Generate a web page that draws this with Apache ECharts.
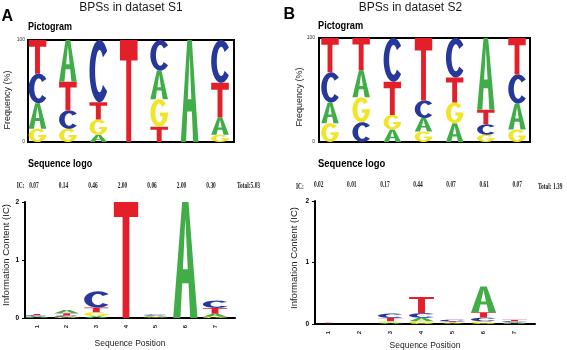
<!DOCTYPE html>
<html><head><meta charset="utf-8">
<script src="https://cdn.jsdelivr.net/npm/echarts@6/dist/echarts.min.js"></script>
<style>html,body{margin:0;padding:0;background:#fff}#c{width:567px;height:350px}</style>
</head><body><div id="c"></div>
<script>
// ---------- data ----------
const positions = [1, 2, 3, 4, 5, 6, 7];
const posLabels = ['1', '2', '3', '4', '5', '6', '7'];
const letters = ['A', 'C', 'G', 'T'];

// dataset S1 : base frequencies (%) per position
const s1A = [25, 41, 7, 0, 28, 100, 17];
const s1C = [29, 18, 61, 0, 30, 0, 42];
const s1G = [13, 13, 15, 0, 27, 0, 7];
const s1T = [33, 28, 17, 100, 15, 0, 34];
const s1IC = [0.07, 0.14, 0.46, 2.00, 0.06, 2.00, 0.30];
const s1ICLabels = ['0.07', '0.14', '0.46', '2.00', '0.06', '2.00', '0.30'];
const s1Total = 'Total:5.03';

// dataset S2
const s2A = [20, 26, 12, 13, 18, 69, 25];
const s2C = [29, 19, 42, 17, 38, 10, 28];
const s2G = [18, 24, 14, 10, 20, 7, 12];
const s2T = [33, 31, 32, 60, 24, 14, 35];
const s2IC = [0.02, 0.01, 0.17, 0.44, 0.07, 0.61, 0.07];
const s2ICLabels = ['0.02', '0.01', '0.17', '0.44', '0.07', '0.61', '0.07'];
const s2Total = 'Total: 1.39';

// ---------- glyph shapes ----------
const COLORS = { A: '#41ad48', C: '#26389a', G: '#f0e52a', T: '#e3202a' };
function arc(cx, cy, rx, ry, a0, a1, n) {
  const out = [];
  for (let i = 0; i <= n; i++) {
    const a = (a0 + (a1 - a0) * i / n) * Math.PI / 180;
    out.push([cx + rx * Math.cos(a), cy + ry * Math.sin(a)]);
  }
  return out;
}
function poly(pts) { return 'M' + pts.map(p => p[0].toFixed(2) + ' ' + p[1].toFixed(2)).join(' L') + ' Z'; }
const pathA = 'M0 100 L37 0 L63 0 L100 100 L70 100 L63 70 L37 70 L30 100 Z M50 14 L40 58 L60 58 Z';
const pathC = poly(arc(50, 50, 50, 50, 40, 320, 48).concat(arc(50, 50, 22, 34, 320, 40, 48)));
const gi = Math.asin(12 / 34) * 180 / Math.PI;
const pathG = poly(arc(50, 50, 50, 50, 0, 320, 48).concat(arc(50, 50, 22, 34, 320, gi, 48), [[54, 62], [54, 48], [100, 48]]));
const pathTpic = 'M0 0 L100 0 L100 20 L64 20 L64 100 L36 100 L36 20 L0 20 Z';
const pathTlogo = 'M0 0 L100 0 L100 13 L64 13 L64 100 L36 100 L36 13 L0 13 Z';
const PATHS_PIC = { A: pathA, C: pathC, G: pathG, T: pathTpic };
const PATHS_LOGO = { A: pathA, C: pathC, G: pathG, T: pathTlogo };

function stacks(fa, fc, fg, ft, ic) {
  const data = [];
  positions.forEach((p, i) => {
    const items = [[0, fa[i]], [1, fc[i]], [2, fg[i]], [3, ft[i]]]
      .filter(d => d[1] > 0).sort((a, b) => a[1] - b[1]);
    const k = ic ? ic[i] / 100 : 1;
    let cum = 0;
    items.forEach(([li, v]) => { data.push([p, cum * k, (cum + v) * k, li]); cum += v; });
  });
  return data;
}
function letterRenderer(paths, halfW) {
  return function (params, api) {
    const x = api.value(0), y0 = api.value(1), y1 = api.value(2), li = api.value(3);
    const tl = api.coord([x - halfW, y1]), br = api.coord([x + halfW, y0]);
    const w = br[0] - tl[0], h = br[1] - tl[1];
    if (h < 0.4) return null;
    const L = letters[li];
    return { type: 'path', shape: { pathData: paths[L], x: tl[0], y: tl[1], width: w, height: h, layout: 'cover' },
      style: { fill: COLORS[L] } };
  };
}
function icRenderer(labels) {
  return function (params, api) {
    const c = api.coord([api.value(0), 2]);
    return { type: 'text', x: c[0], y: c[1] - 16, scaleX: 0.6,
      style: { text: labels[api.value(1)], font: 'bold 9px "Liberation Serif", serif', fill: '#222', align: 'center', verticalAlign: 'middle' } };
  };
}

const SANS = '"Liberation Sans", Arial, sans-serif';
function txt(text, x, y, o) {
  o = o || {};
  const el = { type: 'text', x: x, y: y, silent: true, scaleX: o.sx || 1,
    style: { text: text, font: o.font || ('12px ' + SANS), fill: o.fill || '#1a1a1a', align: o.align || 'center', verticalAlign: 'middle' } };
  if (o.rot) el.rotation = o.rot;
  return el;
}

const picAxisY = (margin) => ({ type: 'value', min: 0, max: 100, interval: 100,
  axisLine: { show: false }, axisTick: { show: false }, splitLine: { show: false },
  axisLabel: { fontSize: 5, margin: margin, color: '#333', fontFamily: SANS } });
const logoAxisY = (gi) => ({ gridIndex: gi, type: 'value', min: 0, max: 2, interval: 1,
  axisLine: { show: true, lineStyle: { color: '#000', width: 2 } },
  axisTick: { show: true, length: 3, lineStyle: { color: '#000', width: 1 } },
  splitLine: { show: false },
  axisLabel: { fontSize: 6.5, fontWeight: 'bold', margin: 6, color: '#000', fontFamily: SANS } });
const logoAxisX = (gi, min, max, gap) => ({ gridIndex: gi, type: 'value', min: min, max: max, position: 'bottom',
  axisLine: { show: true, onZero: false, lineStyle: { color: '#000', width: 2 } },
  axisTick: { show: false }, splitLine: { show: false },
  axisLabel: { customValues: positions, formatter: v => posLabels[Math.round(v) - 1], rotate: 90, fontSize: 6, fontWeight: 'bold', color: '#222', margin: 7, fontFamily: SANS },
  name: 'Sequence Position', nameLocation: 'middle', nameGap: gap,
  nameTextStyle: { fontSize: 8.5, color: '#1a1a1a', fontFamily: SANS } });

const chart = echarts.init(document.getElementById('c'), null, { renderer: 'canvas' });
chart.setOption({
  animation: false,
  backgroundColor: '#fff',
  grid: [
    { left: 28, top: 40, width: 206, height: 102, show: true, borderColor: '#000', borderWidth: 2, backgroundColor: 'transparent', outerBoundsMode: 'none' },
    { left: 319, top: 38, width: 211, height: 104, show: true, borderColor: '#000', borderWidth: 2, backgroundColor: 'transparent', outerBoundsMode: 'none' },
    { left: 25, top: 202, width: 210, height: 116, outerBoundsMode: 'none' },
    { left: 315, top: 201, width: 220, height: 123, outerBoundsMode: 'none' }
  ],
  xAxis: [
    { gridIndex: 0, type: 'value', min: 0.688, max: 7.46, show: false },
    { gridIndex: 1, type: 'value', min: 0.647, max: 7.417, show: false },
    logoAxisX(2, 0.596, 7.674, 21),
    logoAxisX(3, 0.565, 7.66, 17),
    { gridIndex: 2, type: 'value', min: 0.695, max: 7.81, show: false, position: 'top' },
    { gridIndex: 3, type: 'value', min: 0.888, max: 7.535, show: false, position: 'top' }
  ],
  yAxis: [
    Object.assign({ gridIndex: 0 }, picAxisY(3)),
    Object.assign({ gridIndex: 1 }, picAxisY(4)),
    logoAxisY(2),
    logoAxisY(3)
  ],
  series: [
    { type: 'custom', xAxisIndex: 0, yAxisIndex: 0, silent: true, clip: true, encode: { x: 0, y: [1, 2] },
      data: stacks(s1A, s1C, s1G, s1T, null), renderItem: letterRenderer(PATHS_PIC, 0.29) },
    { type: 'custom', xAxisIndex: 1, yAxisIndex: 1, silent: true, clip: true, encode: { x: 0, y: [1, 2] },
      data: stacks(s2A, s2C, s2G, s2T, null), renderItem: letterRenderer(PATHS_PIC, 0.28) },
    { type: 'custom', xAxisIndex: 2, yAxisIndex: 2, silent: true, encode: { x: 0, y: [1, 2] },
      data: stacks(s1A, s1C, s1G, s1T, s1IC), renderItem: letterRenderer(PATHS_LOGO, 0.41) },
    { type: 'custom', xAxisIndex: 3, yAxisIndex: 3, silent: true, encode: { x: 0, y: [1, 2] },
      data: stacks(s2A, s2C, s2G, s2T, s2IC), renderItem: letterRenderer(PATHS_LOGO, 0.4) },
    { type: 'custom', xAxisIndex: 4, yAxisIndex: 2, silent: true, encode: { x: 0 },
      data: positions.map((p, i) => [p, i]), renderItem: icRenderer(s1ICLabels) },
    { type: 'custom', xAxisIndex: 5, yAxisIndex: 3, silent: true, encode: { x: 0 },
      data: positions.map((p, i) => [p, i]), renderItem: icRenderer(s2ICLabels) }
  ],
  graphic: { elements: [
    txt('BPSs in dataset S1', 131, 7.5),
    txt('BPSs in dataset S2', 410.5, 7.5),
    txt('A', 1.5, 16.5, { font: 'bold 16px ' + SANS, align: 'left', fill: '#000' }),
    txt('B', 283.5, 14.5, { font: 'bold 16px ' + SANS, align: 'left', fill: '#000' }),
    txt('Pictogram', 28, 27, { font: 'bold 11px ' + SANS, align: 'left', sx: 0.82, fill: '#000' }),
    txt('Pictogram', 318, 26, { font: 'bold 11px ' + SANS, align: 'left', sx: 0.84, fill: '#000' }),
    txt('Sequence logo', 28, 164, { font: 'bold 11px ' + SANS, align: 'left', sx: 0.82, fill: '#000' }),
    txt('Sequence logo', 318, 164, { font: 'bold 11px ' + SANS, align: 'left', sx: 0.86, fill: '#000' }),
    txt('Frequency (%)', 7.5, 100, { font: '9px ' + SANS, rot: Math.PI / 2 }),
    txt('Frequency (%)', 300, 97, { font: '9px ' + SANS, rot: Math.PI / 2 }),
    txt('Information Content (IC)', 6, 255, { font: '9.5px ' + SANS, rot: Math.PI / 2 }),
    txt('Information Content (IC)', 294, 258, { font: '9.5px ' + SANS, rot: Math.PI / 2 }),
    txt('IC:', 16.7, 186, { font: 'bold 9px "Liberation Serif", serif', align: 'left', sx: 0.6, fill: '#222' }),
    txt('IC:', 296, 186.7, { font: 'bold 9px "Liberation Serif", serif', align: 'left', sx: 0.6, fill: '#222' }),
    txt(s1Total, 237, 186, { font: 'bold 9px "Liberation Serif", serif', align: 'left', sx: 0.6, fill: '#222' }),
    txt(s2Total, 538, 186.7, { font: 'bold 9px "Liberation Serif", serif', align: 'left', sx: 0.6, fill: '#222' })
  ] }
});
</script>
</body></html>
